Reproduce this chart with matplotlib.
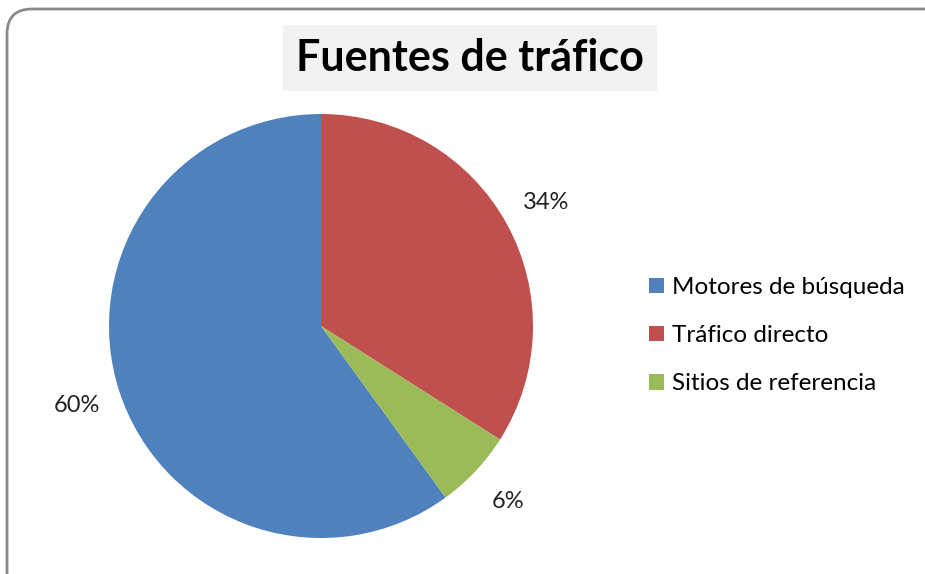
import matplotlib
matplotlib.use("Agg")
import matplotlib.pyplot as plt
from matplotlib.patches import FancyBboxPatch, Patch
from matplotlib.transforms import IdentityTransform

plt.rcParams['font.family'] = ['Lato', 'DejaVu Sans']

labels = ["Motores de búsqueda", "Tráfico directo", "Sitios de referencia"]
values = [60, 34, 6]
colors = ["#4f81bd", "#c0504d", "#9bbb59"]

fig = plt.figure(figsize=(9.25, 5.74), dpi=100)

# chart border (rounded, cut off at right/bottom)
border = FancyBboxPatch((7, -30), 960, 595, boxstyle="round,pad=0,rounding_size=25",
                        transform=IdentityTransform(), facecolor="none",
                        edgecolor="#8a8a8a", linewidth=2, zorder=5)
fig.patches.append(border)

ax = fig.add_axes([109 / 925, 36 / 574, 424 / 925, 424 / 574])
wedges, texts = ax.pie(values, colors=colors, startangle=306, counterclock=False,
                       labels=[f"{v}%" for v in values], labeldistance=1.21,
                       wedgeprops=dict(linewidth=0),
                       textprops=dict(fontsize=17, color="#222222"))
for t in texts:
    t.set_horizontalalignment("center")
    t.set_verticalalignment("center")
ax.set_xlim(-1, 1)
ax.set_ylim(-1, 1)
ax.set_aspect("equal")
ax.axis("off")

fig.text(470 / 925, 1 - 58 / 574, "Fuentes de tráfico", ha="center", va="center",
         fontsize=31, fontweight="bold",
         bbox=dict(facecolor="#f2f2f2", edgecolor="none", boxstyle="square,pad=0.3"))

handles = [Patch(facecolor=c, edgecolor="none") for c in colors]
fig.legend(handles, labels, loc="upper left", bbox_to_anchor=(649 / 925, 1 - 277 / 574),
           frameon=False, fontsize=17.5, handlelength=0.6, handleheight=0.6,
           handletextpad=0.35, labelspacing=1.12, borderaxespad=0, borderpad=0)

fig.savefig("out.png", dpi=100)
